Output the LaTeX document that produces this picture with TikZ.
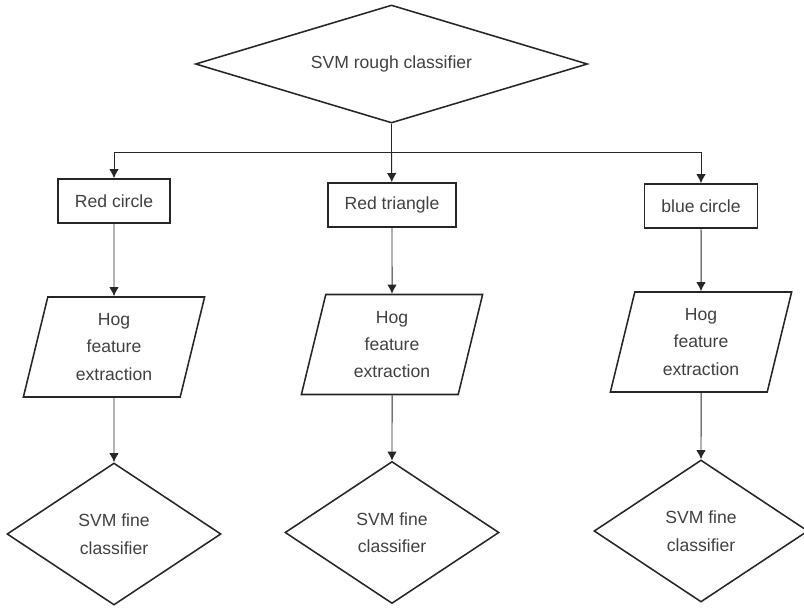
\documentclass[tikz,border=0pt]{standalone}
\usepackage{fontspec}
\setmainfont{Liberation Sans}
\usetikzlibrary{shapes.geometric,arrows.meta}
\tikzset{
  >={Latex[length=2.3mm,width=2.4mm]},
  {base shape/.style}={draw=black!85, line width=1.1pt, text=black!75,
                       font=\fontsize{12.5}{19.5}\selectfont, align=center},
  {decision/.style}={base shape, diamond, inner sep=0pt},
  {label box/.style}={base shape, rectangle, inner xsep=4.2mm, minimum height=11mm},
  {hog/.style}={base shape, trapezium, trapezium left angle=70,
                trapezium right angle=110, trapezium stretches body,
                inner sep=0pt, minimum width=45.3mm, minimum height=25mm},
  {link/.style}={draw=black!85, line width=0.7pt},
}

\begin{document}
\begin{tikzpicture}[x=0.025cm, y=-0.025cm]
\useasboundingbox (0,0) rectangle (804,608);
\node[decision, aspect=3, minimum width=98mm, minimum height=29.5mm] (rough) at (391.5,64) {SVM rough classifier};
\coordinate (split) at (391.5,152);
\foreach \i/\x/\yb/\yh/\yf/\lbl in {1/114/201/347/534/Red circle, 2/392/205/344.5/532.5/Red triangle, 3/701/206/342/531/blue circle}{
  \node[label box] (box\i) at (\x,\yb) {\lbl};
  \node[hog] (hog\i) at (\x,\yh) {Hog\\feature\\extraction};
  \node[decision, aspect=1.5, minimum width=53.5mm, minimum height=35.5mm] (fine\i) at (\x,\yf) {SVM fine\\classifier};
  \path[link, ->] (box\i) -- (hog\i);
  \path[link, ->] (hog\i) -- (fine\i);
}
\path[link] (rough.south) -- (split);
\path[link, ->] (split) -- (box2);
\path[link, ->] (split) -| (box1);
\path[link, ->] (split) -| (box3);
\end{tikzpicture}
\end{document}
